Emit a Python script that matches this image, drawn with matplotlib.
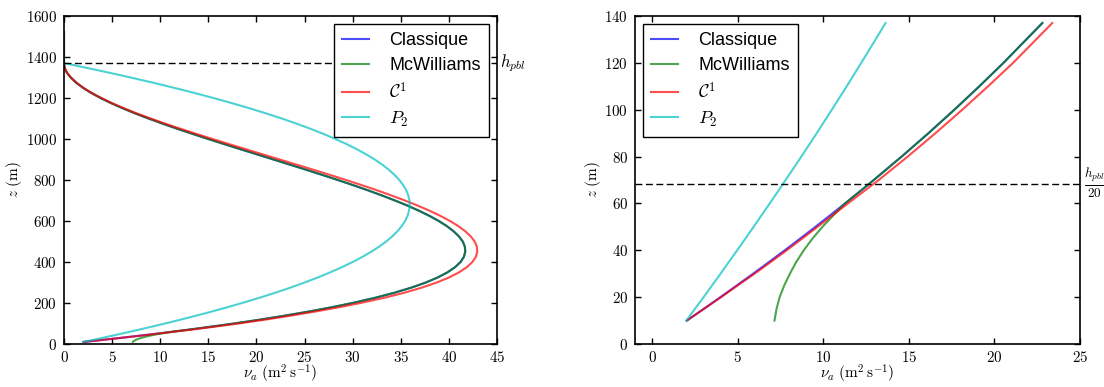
import numpy as np
import matplotlib
matplotlib.use('Agg')
import matplotlib.pyplot as plt
import matplotlib.transforms as mtransforms
from matplotlib.ticker import FuncFormatter, MultipleLocator

h_pbl = 1370.0

# altitudes (m)
z = np.array([10, 15, 20, 25, 30, 35, 40, 45, 50, 55,
              60, 65, 70, 80, 90, 100, 110, 120, 137,
              160, 180, 200, 225, 250, 275, 300, 325, 350, 375, 400, 425, 450, 475, 500,
              525, 550, 575, 600, 625, 650, 675, 700, 725, 750, 775, 800, 825, 850, 875, 900,
              925, 950, 975, 1000, 1025, 1050, 1075, 1100, 1125, 1150, 1175, 1200, 1225, 1250, 1275, 1300,
              1320, 1330, 1340, 1350, 1360, 1370, 1520])

# viscosite (m2/s)
nu_classique = np.array([2.03, 3.02, 3.99, 4.95, 5.90, 6.83, 7.75, 8.65, 9.54, 10.41,
                         11.27, 12.12, 12.95, 14.58, 16.15, 17.66, 19.12, 20.53, 22.80,
                         25.65, 27.91, 29.98, 32.30, 34.34, 36.10, 37.61, 38.86, 39.87, 40.65,
                         41.21, 41.56, 41.70, 41.66, 41.44,
                         41.04, 40.49, 39.79, 38.95, 37.98, 36.89, 35.70, 34.40, 33.02, 31.57,
                         30.04, 28.46, 26.83, 25.17, 23.47, 21.77,
                         20.06, 18.35, 16.66, 14.99, 13.36, 11.77, 10.24, 8.78, 7.39, 6.10,
                         4.89, 3.80, 2.82, 1.97, 1.26, 0.70,
                         0.36, 0.23, 0.13, 0.06, 0.015, 0.0, 0.0])

nu_mcwilliams = np.array([7.15, 7.27, 7.45, 7.72, 8.05, 8.42, 8.86, 9.37, 9.95, 10.60,
                          11.27, 12.12, 12.95, 14.58, 16.15, 17.66, 19.12, 20.53, 22.80,
                          25.65, 27.91, 29.98, 32.30, 34.34, 36.10, 37.61, 38.86, 39.87, 40.65,
                          41.21, 41.56, 41.70, 41.66, 41.44,
                          41.04, 40.49, 39.79, 38.95, 37.98, 36.89, 35.70, 34.40, 33.02, 31.57,
                          30.04, 28.46, 26.83, 25.17, 23.47, 21.77,
                          20.06, 18.35, 16.66, 14.99, 13.36, 11.77, 10.24, 8.78, 7.39, 6.10,
                          4.89, 3.80, 2.82, 1.97, 1.26, 0.70,
                          0.36, 0.23, 0.13, 0.06, 0.015, 0.0, 0.0])

nu_c1 = np.array([2.03, 3.03, 4.03, 5.00, 5.98, 6.93, 7.86, 8.77, 9.66, 10.55,
                  11.44, 12.34, 13.24, 14.93, 16.56, 18.12, 19.63, 21.09, 23.38,
                  26.32, 28.66, 30.82, 33.24, 35.37, 37.18, 38.74, 40.03, 41.07, 41.87,
                  42.44, 42.80, 42.95, 42.91, 42.68,
                  42.27, 41.70, 40.98, 40.12, 39.12, 38.00, 36.77, 35.43, 34.01, 32.52,
                  30.94, 29.31, 27.63, 25.92, 24.17, 22.42,
                  20.66, 18.90, 17.16, 15.44, 13.75, 12.10, 10.51, 9.00, 7.56, 6.23,
                  4.99, 3.88, 2.87, 2.00, 1.28, 0.71,
                  0.36, 0.23, 0.13, 0.06, 0.02, 0.0, 0.0])

nu_p2 = np.array([2.00, 2.50, 3.01, 3.50, 4.00, 4.48, 4.97, 5.45, 5.93, 6.40,
                  6.87, 7.34, 7.80, 8.72, 9.62, 10.50, 11.37, 12.22, 13.64,
                  15.49, 17.03, 18.51, 20.28, 21.95, 23.53, 25.01, 26.40, 27.69, 28.89,
                  30.00, 31.01, 31.93, 32.75, 33.48,
                  34.11, 34.65, 35.10, 35.45, 35.70, 35.86, 35.93, 35.90, 35.78, 35.57,
                  35.25, 34.85, 34.35, 33.76, 33.07, 32.29,
                  31.41, 30.44, 29.37, 28.21, 26.96, 25.61, 24.16, 22.63, 20.99, 19.27,
                  17.45, 15.53, 13.52, 11.42, 9.22, 6.92,
                  5.02, 4.05, 3.06, 2.05, 1.03, 0.0, 0.0])

labels = ['Classique', 'McWilliams', r'$\mathcal{C}^1$', r'$P_2$']
colors = ['b', 'g', 'r', 'c']
profiles = [nu_classique, nu_mcwilliams, nu_c1, nu_p2]

plt.rcParams['mathtext.fontset'] = 'cm'
plt.rcParams['xtick.direction'] = 'in'
plt.rcParams['ytick.direction'] = 'in'
plt.rcParams['xtick.top'] = True
plt.rcParams['ytick.right'] = True
plt.rcParams['xtick.major.size'] = 4
plt.rcParams['ytick.major.size'] = 4
plt.rcParams['axes.linewidth'] = 1.2

fig = plt.figure(figsize=(11.04, 3.87), dpi=100)
ax1 = fig.add_axes([64 / 1104, 43 / 387, 433 / 1104, 328 / 387])
ax2 = fig.add_axes([635 / 1104, 43 / 387, 445 / 1104, 328 / 387])

fmt = FuncFormatter(lambda v, p: r'$%g$' % v)
low = z <= h_pbl / 10

for nu, lab, col in zip(profiles, labels, colors):
    ax1.plot(nu, z, color=col, alpha=0.7, lw=1.5, label=lab)
    ax2.plot(nu[low], z[low], color=col, alpha=0.7, lw=1.5, label=lab)

# ligne h_pbl
ax1.axhline(h_pbl, color='k', ls='--', dashes=(5, 2.5), lw=1)
tr1 = mtransforms.blended_transform_factory(ax1.transAxes, ax1.transData)
ax1.text(1.008, h_pbl, r'$h_{pbl}$', transform=tr1, fontsize=12, va='center', ha='left')

ax2.axhline(h_pbl / 20, color='k', ls='--', dashes=(5, 2.5), lw=1)
tr2 = mtransforms.blended_transform_factory(ax2.transAxes, ax2.transData)
ax2.text(1.008, h_pbl / 20, r'$\frac{h_{pbl}}{20}$', transform=tr2, fontsize=13.5, va='center', ha='left')

ax1.set_xlim(0, 45)
ax1.set_ylim(0, 1600)
ax1.xaxis.set_major_locator(MultipleLocator(5))
ax1.yaxis.set_major_locator(MultipleLocator(200))

ax2.set_xlim(-1, 25)
ax2.set_ylim(0, 140)
ax2.xaxis.set_major_locator(MultipleLocator(5))
ax2.yaxis.set_major_locator(MultipleLocator(20))

for ax, loc in [(ax1, 'upper right'), (ax2, 'upper left')]:
    ax.xaxis.set_major_formatter(fmt)
    ax.yaxis.set_major_formatter(fmt)
    ax.tick_params(axis='y', labelsize=10.8, width=1, pad=5)
    ax.tick_params(axis='x', labelsize=10.8, width=1, pad=4)
    ax.set_xlabel(r'$\nu_a\ (\mathrm{m^2\,s^{-1}})$', fontsize=11, labelpad=-1.5)
    ax.set_ylabel(r'$z\ (\mathrm{m})$', fontsize=11, labelpad=1)
    leg = ax.legend(loc=loc, fancybox=False, framealpha=1, edgecolor='k',
                    prop={'family': 'Liberation Sans', 'size': 13},
                    handlelength=1.5, handletextpad=1.1, borderpad=0.45,
                    labelspacing=0.42, borderaxespad=0.45)
    leg.get_frame().set_linewidth(1.0)

fig.savefig('out.png', dpi=100, facecolor='white')
